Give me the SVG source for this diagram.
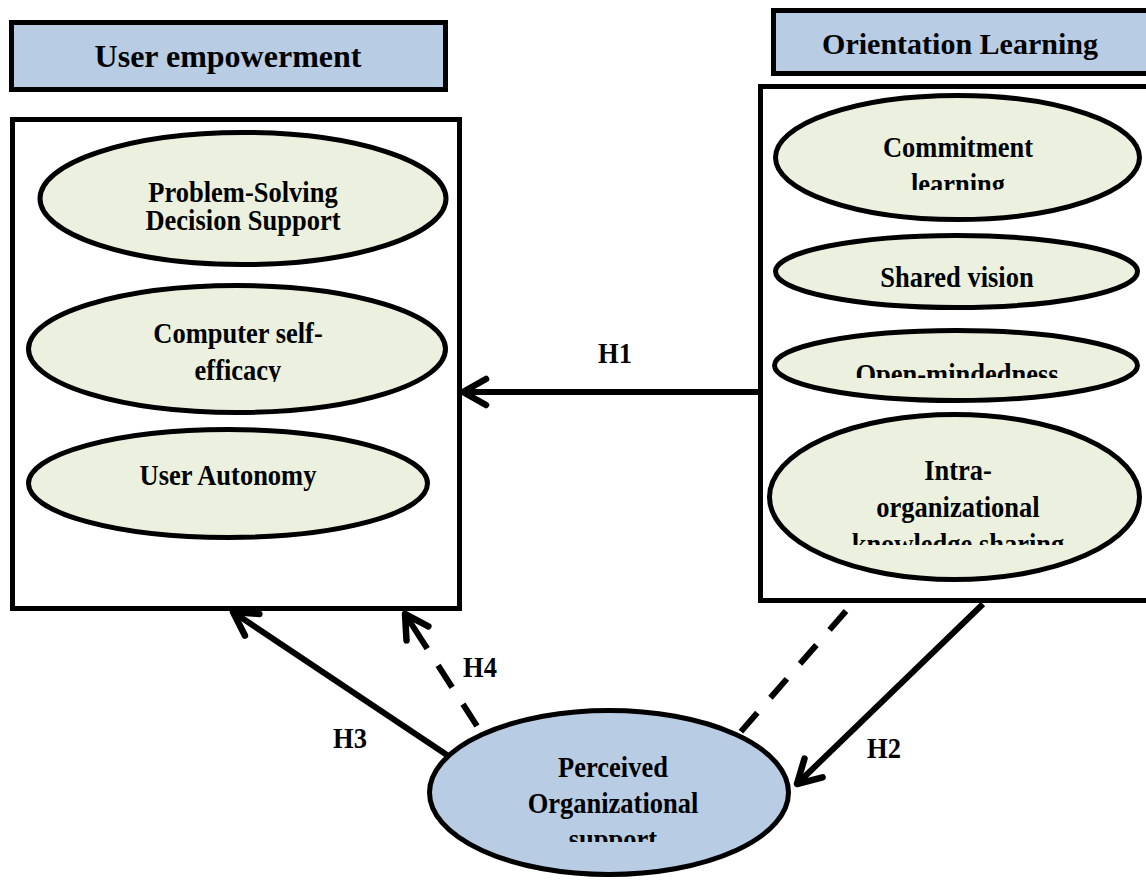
<svg xmlns="http://www.w3.org/2000/svg" width="1146" height="880" viewBox="0 0 1146 880">
<style>
.hdr{fill:#b8cce4;stroke:#000;stroke-width:5}
.box{fill:#fff;stroke:#000;stroke-width:5}
.oval{fill:#ebf1de;stroke:#000;stroke-width:5}
.blue{fill:#b8cce4;stroke:#000;stroke-width:5}
text{font-family:"Liberation Serif","Times New Roman",serif;font-weight:bold;fill:#000;text-anchor:middle}
.t{font-size:26.5px}
.h{font-size:26.5px}
.conn{stroke:#000;stroke-width:6;fill:none}
</style>
<defs>
<marker id="chev" markerUnits="userSpaceOnUse" markerWidth="60" markerHeight="60" refX="0" refY="0" orient="auto" viewBox="-30 -30 60 60" overflow="visible">
<path d="M -23 -13 L 0 0 L -23 13" fill="none" stroke="#000" stroke-width="6.5" stroke-linecap="round" stroke-linejoin="round"/>
</marker>
<clipPath id="c1" clipPathUnits="userSpaceOnUse"><rect x="760" y="90" width="400" height="100"/></clipPath>
<clipPath id="c2" clipPathUnits="userSpaceOnUse"><rect x="0" y="280" width="470" height="102"/></clipPath>
<clipPath id="c3" clipPathUnits="userSpaceOnUse"><rect x="760" y="330" width="400" height="48"/></clipPath>
<clipPath id="c4" clipPathUnits="userSpaceOnUse"><rect x="760" y="415" width="400" height="130"/></clipPath>
<clipPath id="c5" clipPathUnits="userSpaceOnUse"><rect x="420" y="710" width="380" height="132"/></clipPath>
</defs>

<g id="user-empowerment">
<rect class="hdr" x="11.5" y="22.5" width="434" height="67"/>
<text x="228" y="67" style="font-size:32px">User empowerment</text>
</g>

<g id="user-empowerment-box">
<rect class="box" x="12.5" y="119.5" width="447" height="489"/>
</g>

<g id="problem-solving">
<ellipse class="oval" cx="243" cy="198.5" rx="203" ry="66"/>
<text class="t" x="243" y="202" transform="matrix(1 0 0 1.12 0 -24.24)">Problem-Solving</text>
<text class="t" x="243" y="230" transform="matrix(1 0 0 1.12 0 -27.6)">Decision Support</text>
</g>

<g id="computer-self-efficacy">
<ellipse class="oval" cx="237" cy="349" rx="208.5" ry="63.5"/>
<g clip-path="url(#c2)">
<text class="t" x="238" y="343" transform="matrix(1 0 0 1.12 0 -41.16)">Computer self-</text>
<text class="t" x="238" y="380" transform="matrix(1 0 0 1.12 0 -45.6)">efficacy</text>
</g>
</g>

<g id="user-autonomy">
<ellipse class="oval" cx="228" cy="483.5" rx="199.5" ry="54"/>
<text class="t" x="228" y="485" transform="matrix(1 0 0 1.12 0 -58.2)">User Autonomy</text>
</g>

<g id="orientation-learning">
<rect class="hdr" x="773.5" y="10.5" width="400" height="63"/>
<text x="960" y="54" style="font-size:30px">Orientation Learning</text>
</g>

<g id="orientation-learning-box">
<rect class="box" x="760.5" y="86.5" width="400" height="514"/>
</g>

<g id="commitment-learning">
<ellipse class="oval" cx="957.5" cy="157.5" rx="182" ry="62"/>
<g clip-path="url(#c1)">
<text class="t" x="958" y="157" transform="matrix(1 0 0 1.12 0 -18.84)">Commitment</text>
<text class="t" x="958" y="194" transform="matrix(1 0 0 1.12 0 -23.28)">learning</text>
</g>
</g>

<g id="shared-vision">
<ellipse class="oval" cx="956.5" cy="271.5" rx="181" ry="36"/>
<text class="t" x="957" y="287" transform="matrix(1 0 0 1.12 0 -34.44)">Shared vision</text>
</g>

<g id="open-mindedness">
<ellipse class="oval" cx="956" cy="365.5" rx="181.5" ry="35"/>
<g clip-path="url(#c3)">
<text class="t" x="957" y="384" transform="matrix(1 0 0 1.12 0 -46.08)">Open-mindedness</text>
</g>
</g>

<g id="intra-organizational">
<ellipse class="oval" cx="954.5" cy="497" rx="185" ry="82.5"/>
<g clip-path="url(#c4)">
<text class="t" x="958" y="480" transform="matrix(1 0 0 1.12 0 -57.6)">Intra-</text>
<text class="t" x="958" y="517" transform="matrix(1 0 0 1.12 0 -62.04)">organizational</text>
<text class="t" x="958" y="554" transform="matrix(1 0 0 1.12 0 -66.48)">knowledge sharing</text>
</g>
</g>

<g id="perceived-organizational-support">
<ellipse class="blue" cx="609" cy="792.5" rx="179.5" ry="82"/>
<g clip-path="url(#c5)">
<text class="t" x="613" y="777" transform="matrix(1 0 0 1.12 0 -93.24)">Perceived</text>
<text class="t" x="613" y="813" transform="matrix(1 0 0 1.12 0 -97.56)">Organizational</text>
<text class="t" x="613" y="849" transform="matrix(1 0 0 1.12 0 -101.88)">support</text>
</g>
</g>

<g id="connectors">
<line class="conn" x1="758" y1="392" x2="463" y2="392" marker-end="url(#chev)"/>
<line class="conn" x1="983" y1="604" x2="797" y2="784" marker-end="url(#chev)"/>
<line class="conn" x1="447" y1="755" x2="233" y2="612" marker-end="url(#chev)"/>
<line class="conn" x1="477" y1="726" x2="405" y2="614" stroke-dasharray="26 20 26 20 60" marker-end="url(#chev)"/>
<line class="conn" x1="846" y1="611" x2="738" y2="735" stroke-dasharray="25 20"/>
<text class="h" x="615" y="363" transform="matrix(1 0 0 1.12 0 -43.56)">H1</text>
<text class="h" x="884" y="758" transform="matrix(1 0 0 1.12 0 -90.96)">H2</text>
<text class="h" x="350" y="748" transform="matrix(1 0 0 1.12 0 -89.76)">H3</text>
<text class="h" x="480" y="677" transform="matrix(1 0 0 1.12 0 -81.24)">H4</text>
</g>
</svg>
